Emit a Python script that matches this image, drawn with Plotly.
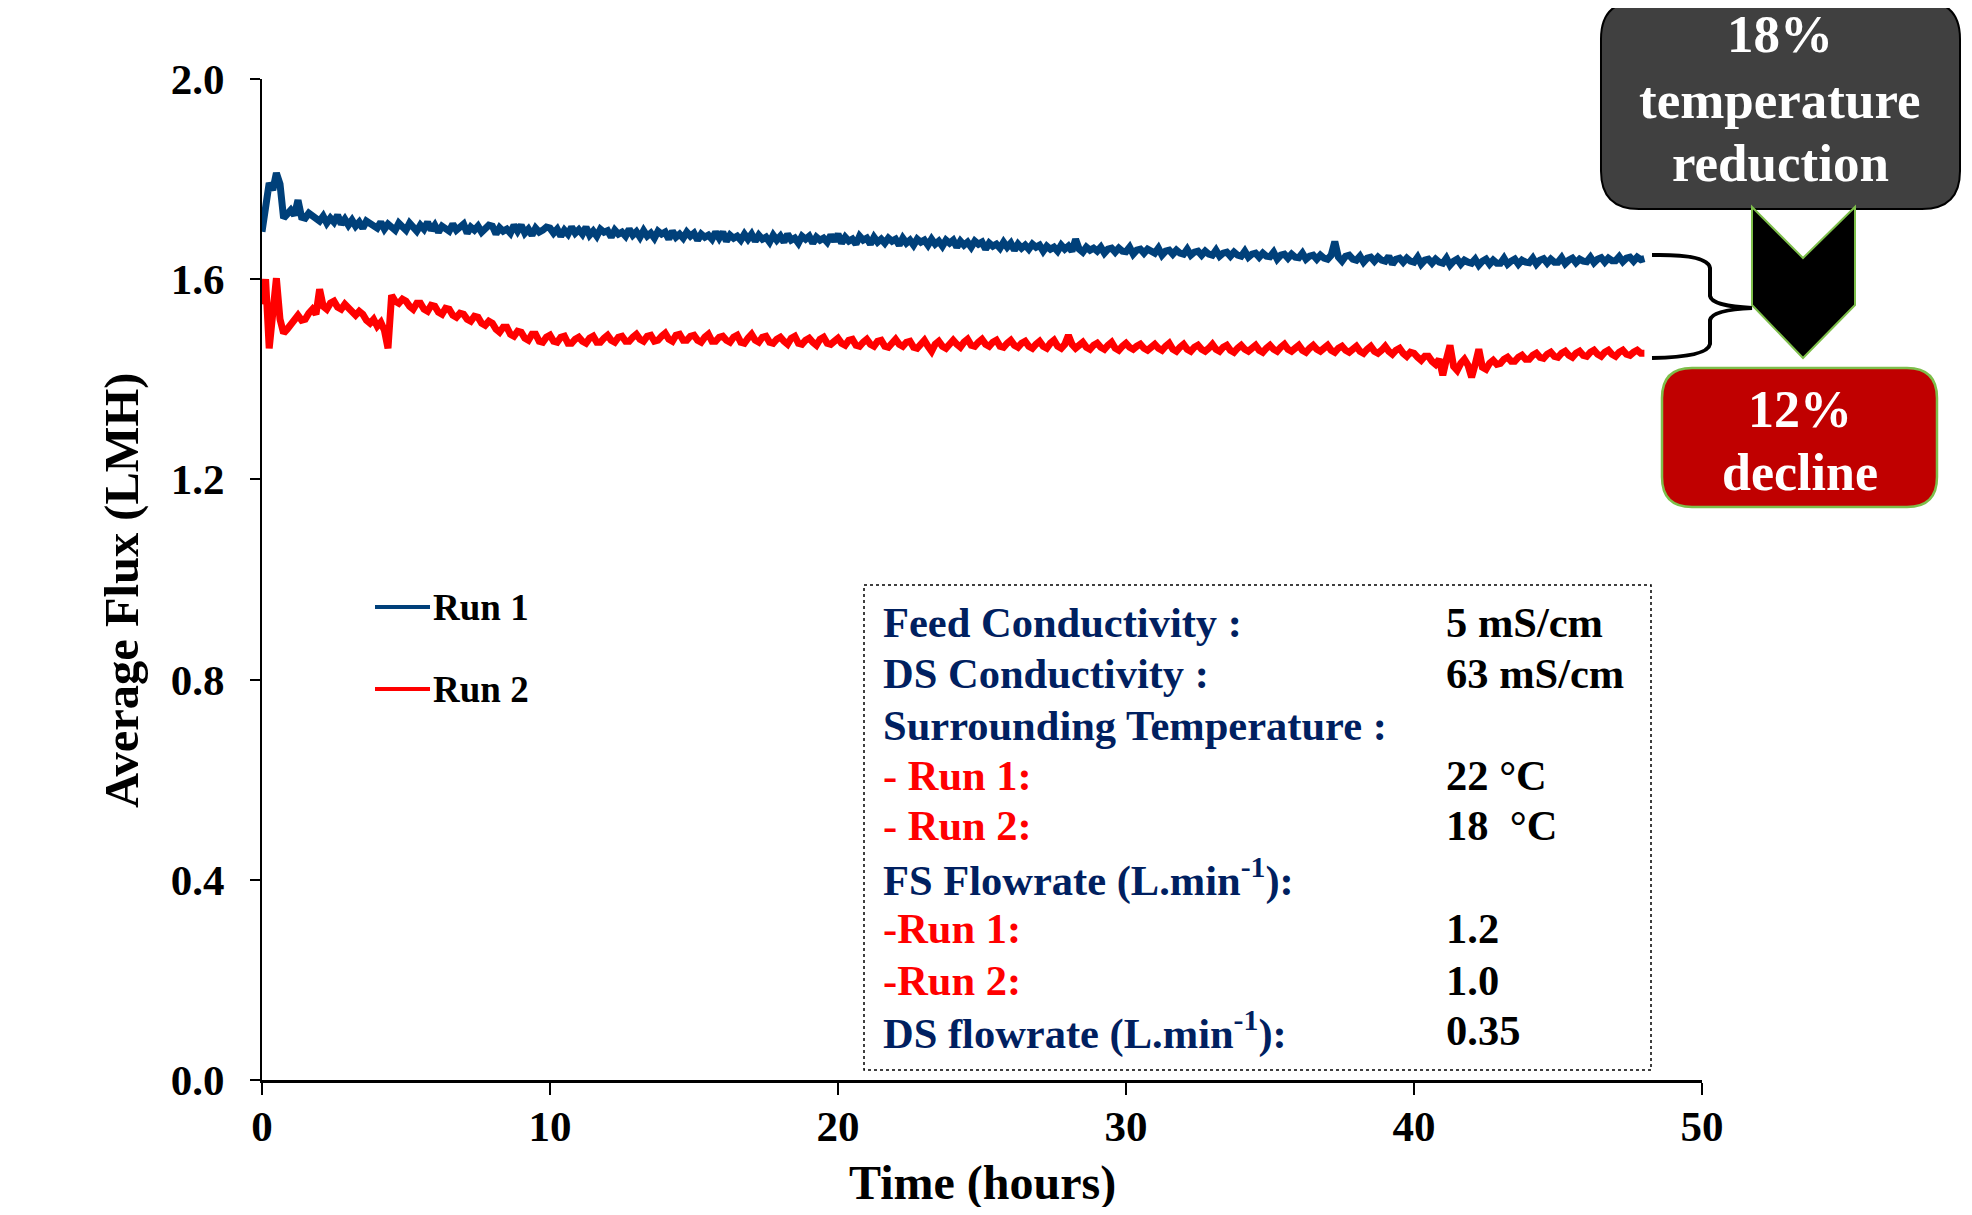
import plotly.graph_objects as go

# ---------------- data ----------------
TIME_STEP_H = 0.125  # hours between samples (8 per hour)

run1_flux = [
    1.695, 1.745, 1.792, 1.778, 1.812, 1.790, 1.722, 1.730,
    1.738, 1.728, 1.758, 1.724, 1.722, 1.732, 1.726, 1.718,
    1.716, 1.726, 1.712, 1.722, 1.714, 1.728, 1.710, 1.720,
    1.708, 1.718, 1.706, 1.714, 1.702, 1.716, 1.710, 1.704,
    1.702, 1.714, 1.700, 1.710, 1.706, 1.698, 1.712, 1.704,
    1.698, 1.712, 1.702, 1.696, 1.708, 1.700, 1.714, 1.698,
    1.708, 1.694, 1.706, 1.700, 1.696, 1.710, 1.698, 1.704,
    1.710, 1.692, 1.704, 1.698, 1.706, 1.694, 1.700, 1.708,
    1.706, 1.690, 1.703, 1.696, 1.700, 1.692, 1.708, 1.696,
    1.708, 1.692, 1.700, 1.688, 1.702, 1.694, 1.698, 1.704,
    1.702, 1.692, 1.700, 1.686, 1.698, 1.690, 1.704, 1.692,
    1.699, 1.690, 1.704, 1.688, 1.696, 1.686, 1.700, 1.694,
    1.697, 1.684, 1.698, 1.690, 1.694, 1.686, 1.700, 1.688,
    1.695, 1.684, 1.697, 1.686, 1.692, 1.682, 1.696, 1.690,
    1.694, 1.680, 1.696, 1.684, 1.690, 1.682, 1.694, 1.686,
    1.692, 1.678, 1.690, 1.684, 1.688, 1.680, 1.694, 1.682,
    1.694, 1.676, 1.688, 1.682, 1.686, 1.678, 1.690, 1.680,
    1.690, 1.676, 1.688, 1.680, 1.684, 1.674, 1.688, 1.678,
    1.686, 1.674, 1.690, 1.678, 1.682, 1.672, 1.686, 1.680,
    1.686, 1.672, 1.684, 1.678, 1.682, 1.674, 1.688, 1.676,
    1.690, 1.672, 1.684, 1.676, 1.680, 1.670, 1.686, 1.678,
    1.682, 1.670, 1.684, 1.674, 1.680, 1.672, 1.682, 1.676,
    1.680, 1.668, 1.682, 1.672, 1.678, 1.668, 1.680, 1.674,
    1.678, 1.668, 1.680, 1.670, 1.676, 1.666, 1.678, 1.672,
    1.678, 1.664, 1.676, 1.668, 1.674, 1.664, 1.676, 1.670,
    1.674, 1.660, 1.672, 1.666, 1.670, 1.662, 1.674, 1.664,
    1.672, 1.658, 1.670, 1.662, 1.668, 1.660, 1.670, 1.664,
    1.668, 1.656, 1.666, 1.660, 1.664, 1.656, 1.668, 1.660,
    1.666, 1.656, 1.680, 1.660, 1.654, 1.664, 1.658, 1.662,
    1.656, 1.664, 1.652, 1.660, 1.662, 1.654, 1.662, 1.656,
    1.655, 1.664, 1.650, 1.658, 1.660, 1.652, 1.660, 1.654,
    1.652, 1.662, 1.648, 1.656, 1.658, 1.650, 1.658, 1.652,
    1.650, 1.660, 1.648, 1.654, 1.656, 1.648, 1.656, 1.650,
    1.648, 1.658, 1.646, 1.652, 1.654, 1.646, 1.654, 1.648,
    1.646, 1.656, 1.644, 1.650, 1.652, 1.644, 1.652, 1.646,
    1.645, 1.654, 1.640, 1.648, 1.650, 1.642, 1.650, 1.644,
    1.643, 1.652, 1.640, 1.646, 1.648, 1.640, 1.648, 1.642,
    1.640, 1.648, 1.675, 1.644, 1.636, 1.646, 1.648, 1.640,
    1.638, 1.646, 1.634, 1.642, 1.644, 1.636, 1.644, 1.638,
    1.636, 1.646, 1.630, 1.640, 1.642, 1.634, 1.642, 1.636,
    1.634, 1.644, 1.630, 1.638, 1.640, 1.632, 1.640, 1.634,
    1.632, 1.642, 1.628, 1.636, 1.640, 1.630, 1.638, 1.634,
    1.632, 1.640, 1.628, 1.636, 1.640, 1.630, 1.638, 1.632,
    1.632, 1.642, 1.630, 1.636, 1.640, 1.630, 1.638, 1.634,
    1.633, 1.642, 1.630, 1.638, 1.641, 1.632, 1.640, 1.634,
    1.634, 1.643, 1.631, 1.638, 1.642, 1.633, 1.640, 1.636,
    1.635, 1.644, 1.633, 1.640, 1.643, 1.634, 1.642, 1.637,
    1.637, 1.645, 1.635, 1.642, 1.644, 1.636, 1.644, 1.639,
    1.641,
]

run2_flux = [
    1.550, 1.600, 1.462, 1.540, 1.602, 1.520, 1.492, 1.500,
    1.508, 1.516, 1.528, 1.518, 1.520, 1.532, 1.540, 1.530,
    1.580, 1.546, 1.540, 1.552, 1.556, 1.544, 1.540, 1.550,
    1.542, 1.534, 1.528, 1.536, 1.530, 1.518, 1.512, 1.520,
    1.506, 1.514, 1.498, 1.462, 1.568, 1.556, 1.552, 1.560,
    1.556, 1.546, 1.540, 1.552, 1.552, 1.540, 1.536, 1.548,
    1.546, 1.534, 1.530, 1.542, 1.540, 1.528, 1.524, 1.532,
    1.530, 1.520, 1.516, 1.526, 1.524, 1.512, 1.508, 1.516,
    1.512, 1.500, 1.494, 1.504, 1.504, 1.490, 1.486, 1.496,
    1.494, 1.482, 1.478, 1.490, 1.490, 1.476, 1.474, 1.484,
    1.488, 1.476, 1.474, 1.484, 1.486, 1.472, 1.472, 1.480,
    1.484, 1.476, 1.472, 1.482, 1.486, 1.474, 1.474, 1.482,
    1.488, 1.478, 1.474, 1.484, 1.486, 1.476, 1.476, 1.484,
    1.490, 1.480, 1.476, 1.486, 1.488, 1.476, 1.478, 1.486,
    1.492, 1.480, 1.476, 1.488, 1.490, 1.478, 1.478, 1.486,
    1.488, 1.478, 1.474, 1.484, 1.490, 1.476, 1.476, 1.484,
    1.486, 1.478, 1.474, 1.484, 1.488, 1.474, 1.472, 1.482,
    1.490, 1.478, 1.474, 1.484, 1.486, 1.474, 1.472, 1.480,
    1.484, 1.476, 1.470, 1.482, 1.486, 1.472, 1.470, 1.478,
    1.482, 1.474, 1.468, 1.480, 1.484, 1.472, 1.470, 1.476,
    1.482, 1.472, 1.468, 1.478, 1.480, 1.468, 1.466, 1.474,
    1.480, 1.470, 1.466, 1.476, 1.478, 1.466, 1.464, 1.472,
    1.480, 1.470, 1.466, 1.474, 1.476, 1.464, 1.462, 1.470,
    1.478, 1.466, 1.456, 1.470, 1.476, 1.466, 1.462, 1.470,
    1.478, 1.470, 1.464, 1.474, 1.480, 1.468, 1.466, 1.474,
    1.480, 1.470, 1.466, 1.474, 1.478, 1.466, 1.464, 1.472,
    1.478, 1.468, 1.464, 1.472, 1.476, 1.466, 1.462, 1.470,
    1.476, 1.466, 1.462, 1.472, 1.478, 1.466, 1.462, 1.470,
    1.488, 1.470, 1.462, 1.468, 1.474, 1.464, 1.460, 1.468,
    1.472, 1.464, 1.460, 1.468, 1.474, 1.462, 1.458, 1.466,
    1.472, 1.464, 1.460, 1.466, 1.470, 1.462, 1.458, 1.464,
    1.470, 1.462, 1.458, 1.466, 1.472, 1.460, 1.456, 1.464,
    1.470, 1.460, 1.456, 1.464, 1.468, 1.460, 1.456, 1.462,
    1.470, 1.460, 1.456, 1.464, 1.468, 1.458, 1.454, 1.462,
    1.468, 1.460, 1.456, 1.462, 1.468, 1.458, 1.454, 1.462,
    1.468, 1.460, 1.456, 1.464, 1.470, 1.460, 1.456, 1.462,
    1.468, 1.458, 1.454, 1.462, 1.468, 1.460, 1.456, 1.462,
    1.468, 1.458, 1.454, 1.462, 1.466, 1.458, 1.454, 1.460,
    1.466, 1.456, 1.452, 1.460, 1.466, 1.456, 1.452, 1.458,
    1.466, 1.456, 1.450, 1.458, 1.462, 1.452, 1.446, 1.454,
    1.452, 1.444, 1.438, 1.446, 1.446, 1.436, 1.430, 1.440,
    1.408, 1.440, 1.468, 1.426, 1.418, 1.432, 1.440, 1.428,
    1.404, 1.430, 1.460, 1.424, 1.420, 1.432, 1.438, 1.430,
    1.432, 1.440, 1.444, 1.436, 1.436, 1.444, 1.448, 1.440,
    1.440, 1.448, 1.452, 1.444, 1.442, 1.450, 1.454, 1.446,
    1.444, 1.452, 1.456, 1.448, 1.444, 1.452, 1.456, 1.448,
    1.446, 1.454, 1.458, 1.450, 1.446, 1.454, 1.458, 1.450,
    1.446, 1.454, 1.458, 1.450, 1.448, 1.454, 1.458, 1.452,
    1.452,
]

run1_time = [i * TIME_STEP_H for i in range(len(run1_flux))]
run2_time = [i * TIME_STEP_H for i in range(len(run2_flux))]

series_names = ["Run 1", "Run 2"]
series_colors = ["#00407A", "#FF0000"]

y_tick_values = [0.0, 0.4, 0.8, 1.2, 1.6, 2.0]
y_tick_labels = ["0.0", "0.4", "0.8", "1.2", "1.6", "2.0"]
x_tick_values = [0, 10, 20, 30, 40, 50]
x_tick_labels = ["0", "10", "20", "30", "40", "50"]

info_labels = [
    ("Feed Conductivity :", "#002060"),
    ("DS Conductivity :", "#002060"),
    ("Surrounding Temperature :", "#002060"),
    ("- Run 1:", "#FF0000"),
    ("- Run 2:", "#FF0000"),
    ("FS Flowrate (L.min<sup>-1</sup>):", "#002060"),
    ("-Run 1:", "#FF0000"),
    ("-Run 2:", "#FF0000"),
    ("DS flowrate (L.min<sup>-1</sup>):", "#002060"),
]
info_values = ["5 mS/cm", "63 mS/cm", "", "22 °C", "18  °C", "", "1.2", "1.0", "0.35"]

callout_top = ["18%", "temperature", "reduction"]
callout_bottom = ["12%", "decline"]

# ---------------- layout geometry ----------------
# page coordinates of the plot area (the page body adds an 8px offset)
OFF = 8
W, H = 1972 - 2 * OFF, 1215 - 2 * OFF
PL, PR, PT, PB = 262, 1702, 79, 1080
FONT = "Liberation Serif, Times New Roman, serif"


def px(X):
    return (X - PL) / (PR - PL)


def py(Y):
    return (PB - Y) / (PB - PT)


def path_from(cmds):
    out = []
    for c in cmds:
        if isinstance(c, str):
            out.append(c)
        else:
            out.append(f"{px(c[0]):.5f},{py(c[1]):.5f}")
    return " ".join(out)


def rounded_rect(x0, y0, x1, y1, r):
    return path_from([
        "M", (x0 + r, y0), "L", (x1 - r, y0), "Q", (x1, y0), (x1, y0 + r),
        "L", (x1, y1 - r), "Q", (x1, y1), (x1 - r, y1),
        "L", (x0 + r, y1), "Q", (x0, y1), (x0, y1 - r),
        "L", (x0, y0 + r), "Q", (x0, y0), (x0 + r, y0), "Z",
    ])


fig = go.Figure()
fig.add_trace(go.Scatter(x=run1_time, y=run1_flux, mode="lines", name=series_names[0],
                         line=dict(color=series_colors[0], width=7), showlegend=False,
                         hoverinfo="skip"))
fig.add_trace(go.Scatter(x=run2_time, y=run2_flux, mode="lines", name=series_names[1],
                         line=dict(color=series_colors[1], width=7), showlegend=False,
                         hoverinfo="skip"))

shapes = []
annotations = []

# legend (manual)
legend_rows = [607, 689]
for name, color, Y in zip(series_names, series_colors, legend_rows):
    shapes.append(dict(type="line", xref="paper", yref="paper",
                       x0=px(375), x1=px(430), y0=py(Y), y1=py(Y),
                       line=dict(color=color, width=4)))
    annotations.append(dict(xref="paper", yref="paper", x=px(431), y=py(Y),
                            xanchor="left", yanchor="middle", showarrow=False,
                            text=name, font=dict(family=FONT, size=37, color="black",
                                                 weight="bold")))

# info box
shapes.append(dict(type="rect", xref="paper", yref="paper",
                   x0=px(864), x1=px(1651), y0=py(585), y1=py(1070),
                   line=dict(color="black", width=1.5, dash="dot"),
                   fillcolor="rgba(255,255,255,0)"))
info_rows = [622, 673, 725, 775, 825, 877, 928, 980, 1030]
for (lab, col), val, Y in zip(info_labels, info_values, info_rows):
    annotations.append(dict(xref="paper", yref="paper", x=px(881), y=py(Y),
                            xanchor="left", yanchor="middle", showarrow=False,
                            text=lab, font=dict(family=FONT, size=42.5, color=col,
                                                weight="bold")))
    if val:
        annotations.append(dict(xref="paper", yref="paper", x=px(1444), y=py(Y),
                                xanchor="left", yanchor="middle", showarrow=False,
                                text=val, font=dict(family=FONT, size=42.5, color="black",
                                                    weight="bold")))

# bracket
shapes.append(dict(type="path", xref="paper", yref="paper",
                   path=path_from(["M", (1652, 255), "Q", (1708, 254), (1710, 268),
                                   "L", (1710, 296), "Q", (1712, 306), (1752, 308),
                                   "Q", (1712, 310), (1710, 320), "L", (1710, 344),
                                   "Q", (1708, 357), (1652, 358)]),
                   line=dict(color="black", width=4)))

# top dark callout
shapes.append(dict(type="path", xref="paper", yref="paper",
                   path=rounded_rect(1601, 1, 1960, 209, 38),
                   fillcolor="#404040", line=dict(color="black", width=2)))
for txt, Y in zip(callout_top, [34, 100, 163]):
    annotations.append(dict(xref="paper", yref="paper", x=px(1780), y=py(Y),
                            xanchor="center", yanchor="middle", showarrow=False,
                            text=txt, font=dict(family=FONT, size=53, color="white",
                                                weight="bold")))

# chevron arrow
shapes.append(dict(type="path", xref="paper", yref="paper",
                   path=path_from(["M", (1752, 207), "L", (1803, 258), "L", (1855, 207),
                                   "L", (1855, 305), "L", (1803, 358), "L", (1752, 305), "Z"]),
                   fillcolor="black", line=dict(color="#7DBE4A", width=2)))

# bottom red callout
shapes.append(dict(type="path", xref="paper", yref="paper",
                   path=rounded_rect(1662, 368, 1937, 507, 30),
                   fillcolor="#C00000", line=dict(color="#7DBE4A", width=2.5)))
for txt, Y in zip(callout_bottom, [409, 472]):
    annotations.append(dict(xref="paper", yref="paper", x=px(1800), y=py(Y),
                            xanchor="center", yanchor="middle", showarrow=False,
                            text=txt, font=dict(family=FONT, size=52, color="white",
                                                weight="bold")))

# axis titles
annotations.append(dict(xref="paper", yref="paper", x=px(982), y=py(1183),
                        xanchor="center", yanchor="middle", showarrow=False,
                        text="Time (hours)", font=dict(family=FONT, size=48, color="black",
                                                       weight="bold")))
annotations.append(dict(xref="paper", yref="paper", x=px(122), y=py(591),
                        xanchor="center", yanchor="middle", showarrow=False, textangle=-90,
                        text="Average Flux (LMH)", font=dict(family=FONT, size=48.5,
                                                             color="black", weight="bold")))

fig.update_layout(
    width=W, height=H,
    margin=dict(l=PL - OFF, r=W - (PR - OFF), t=PT - OFF, b=H - (PB - OFF), pad=0),
    paper_bgcolor="white", plot_bgcolor="white",
    font=dict(family=FONT, color="black"),
    shapes=shapes, annotations=annotations,
    xaxis=dict(range=[0, 50], tickvals=x_tick_values, ticktext=x_tick_labels,
               showgrid=False, zeroline=False, showline=True, linecolor="black",
               linewidth=3, ticks="outside", ticklen=12, tickwidth=1.5, tickcolor="black",
               ticklabelstandoff=-6,
               tickfont=dict(family=FONT, size=43, color="black", weight="bold")),
    yaxis=dict(range=[0, 2.0], tickvals=y_tick_values, ticktext=y_tick_labels,
               showgrid=False, zeroline=False, showline=True, linecolor="black",
               linewidth=2, ticks="outside", ticklen=10, tickwidth=1.5, tickcolor="black",
               ticklabelstandoff=17,
               tickfont=dict(family=FONT, size=43, color="black", weight="bold")),
)

fig.write_html("out.html")
